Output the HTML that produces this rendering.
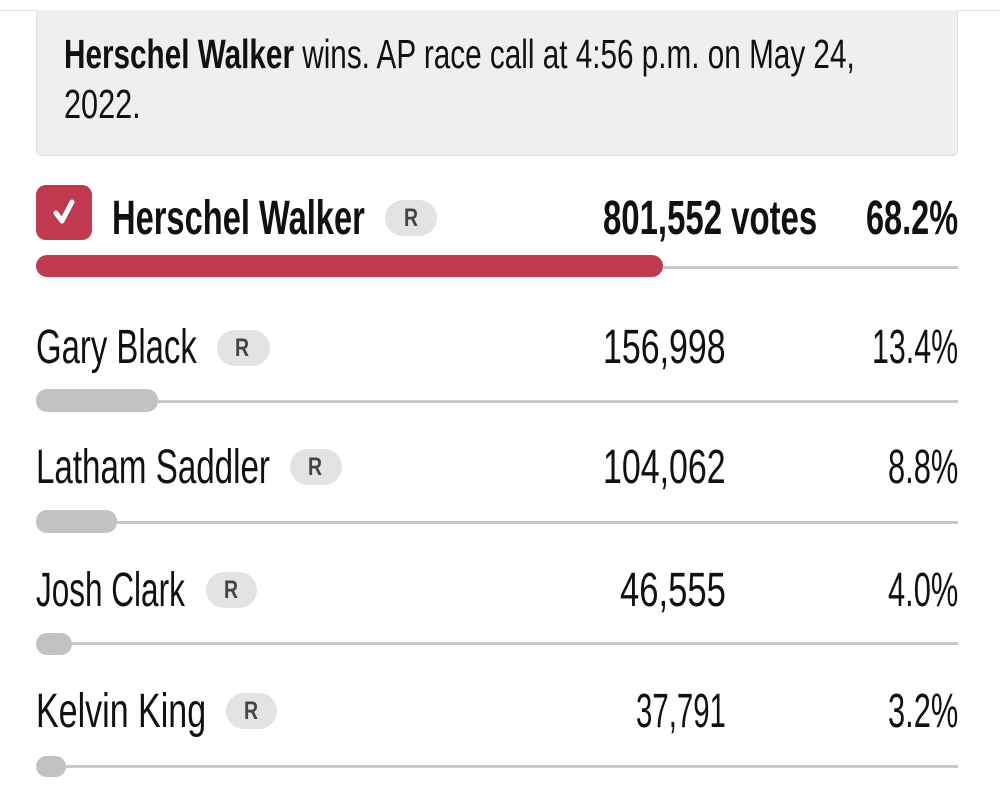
<!DOCTYPE html>
<html><head><meta charset="utf-8"><style>
html,body{margin:0;padding:0;width:1000px;height:790px;background:#fff;overflow:hidden;position:relative;font-family:"Liberation Sans",sans-serif;color:#111}
.t{position:absolute;white-space:nowrap;line-height:1;transform-origin:0 0}
.b{font-weight:bold}
.pill{position:absolute;background:#e3e3e3;border-radius:18px}
.r{position:absolute;font-weight:bold;font-size:25px;color:#444;line-height:1;transform-origin:0 0}
.line{position:absolute;height:3px;background:#c8c8c8;right:42px}
.bar{position:absolute;background:#c2c2c2;border-radius:11px}
</style></head><body>
<div style="position:absolute;left:0;top:0;width:1000px;height:10px;border-bottom:1px solid #e0e0e0"></div>
<div style="position:absolute;left:36px;top:10px;width:920px;height:145px;background:#efefef;border:1px solid #ddd;border-top:none;border-radius:0 0 6px 6px"></div>

<div class="t" id="h1" style="font-size:41px"><span class="b">Herschel Walker</span> wins. AP race call at 4:56 p.m. on May 24,</div>
<div class="t" id="h2" style="font-size:41px">2022.</div>

<div style="position:absolute;left:36px;top:185px;width:56px;height:55px;background:#c0394f;border-radius:10px"></div>
<svg style="position:absolute;left:36px;top:185px" width="56" height="55"><path d="M20 28 L26 36 L36 17" stroke="#fff" stroke-width="5" fill="none" stroke-linecap="round" stroke-linejoin="round"/></svg>
<div class="t b" id="n0" style="font-size:48px">Herschel Walker</div>
<div class="pill" style="left:385px;top:200px;width:52px;height:36px"></div>
<div class="t b" id="v0" style="font-size:48px">801,552 votes</div>
<div class="t b" id="p0" style="font-size:48px">68.2%</div>
<div class="line" style="left:600px;top:266px"></div>
<div class="bar" style="left:36px;top:255px;width:627px;height:22px;background:#c0394f"></div>

<div class="t" id="n1" style="font-size:48px">Gary Black</div>
<div class="pill" style="left:217px;top:330px;width:53px;height:36px"></div>
<div class="t" id="v1" style="font-size:48px">156,998</div>
<div class="t" id="p1" style="font-size:48px">13.4%</div>
<div class="line" style="left:100px;top:400px"></div>
<div class="bar" style="left:36px;top:389px;width:122px;height:23px"></div>

<div class="t" id="n2" style="font-size:48px">Latham Saddler</div>
<div class="pill" style="left:290px;top:449px;width:52px;height:36px"></div>
<div class="t" id="v2" style="font-size:48px">104,062</div>
<div class="t" id="p2" style="font-size:48px">8.8%</div>
<div class="line" style="left:80px;top:521px"></div>
<div class="bar" style="left:36px;top:510px;width:81px;height:23px"></div>

<div class="t" id="n3" style="font-size:48px">Josh Clark</div>
<div class="pill" style="left:206px;top:572px;width:51px;height:36px"></div>
<div class="t" id="v3" style="font-size:48px">46,555</div>
<div class="t" id="p3" style="font-size:48px">4.0%</div>
<div class="line" style="left:50px;top:642px"></div>
<div class="bar" style="left:36px;top:633px;width:36px;height:22px"></div>

<div class="t" id="n4" style="font-size:48px">Kelvin King</div>
<div class="pill" style="left:226px;top:693px;width:51px;height:36px"></div>
<div class="t" id="v4" style="font-size:48px">37,791</div>
<div class="t" id="p4" style="font-size:48px">3.2%</div>
<div class="line" style="left:50px;top:765px"></div>
<div class="bar" style="left:36px;top:756px;width:30px;height:21px"></div>

<div class="r" id="r0">R</div><div class="r" id="r1">R</div><div class="r" id="r2">R</div><div class="r" id="r3">R</div><div class="r" id="r4">R</div>
<script>
var L=[["h1",64,855,54],["h2",64,141,104],
["n0",112,365,218],["v0",603,817,218],["p0",866,958,218],
["n1",36,197,347],["v1",603,726,347],["p1",872,958,347],
["n2",36,270,467],["v2",603,726,467],["p2",888,958,467],
["n3",36,185,590],["v3",620,726,590],["p3",888,958,590],
["n4",36,206,711],["v4",636,726,711],["p4",888,958,711],
["r0",404,418,218],["r1",235,249,348],["r2",308,322,467],["r3",224,238,590],["r4",244,258,711]];
L.forEach(function(a){var e=document.getElementById(a[0]);var w=e.offsetWidth;var fs=parseFloat(getComputedStyle(e).fontSize);
e.style.left=a[1]+"px";e.style.top=(a[3]-0.487*fs)+"px";e.style.transform="scaleX("+((a[2]-a[1])/w)+")";});
</script>
</body></html>
